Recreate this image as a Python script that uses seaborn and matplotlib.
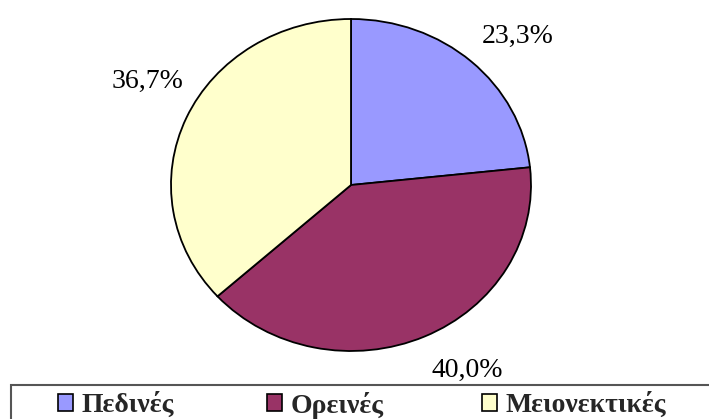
import matplotlib
matplotlib.use("Agg")
import matplotlib.pyplot as plt
from matplotlib.patches import Patch, Rectangle
import numpy as np
import seaborn as sns

# data
categories = ["Πεδινές", "Ορεινές", "Μειονεκτικές"]
shares = [23.3, 40.0, 36.7]
colors = ["#9999FF", "#993366", "#FFFFCC"]

sns.set_theme(style="white")
plt.rcParams["font.family"] = ["Liberation Serif", "DejaVu Serif"]

fig = plt.figure(figsize=(7.09, 4.19), dpi=100)
ax = fig.add_axes([126 / 709, 26.5 / 419, 450 / 709, 415 / 419])

wedges, texts, autotexts = ax.pie(
    shares,
    colors=colors,
    startangle=90,
    counterclock=False,
    autopct=lambda p: f"{p:.1f}%".replace(".", ","),
    pctdistance=1.29,
    wedgeprops=dict(edgecolor="black", linewidth=1.3),
    textprops=dict(fontsize=20, color="black"),
)
ax.set_aspect("auto")
ax.set_xlim(-1.25, 1.25)
ax.set_ylim(-1.25, 1.25)

# nudge labels round the pie a little, as Excel places them
label_shift = [-4, 6, -5]  # degrees
for w, t, d in zip(wedges, autotexts, label_shift):
    ang = np.deg2rad((w.theta1 + w.theta2) / 2 + d)
    t.set_position((1.29 * np.cos(ang), 1.29 * np.sin(ang)))

# legend box (runs past the right edge like the original)
fig.patches.append(Rectangle((11 / 709, -0.05), 1.2, (419 - 385) / 419 + 0.05,
                             transform=fig.transFigure, fill=False,
                             edgecolor="#555555", linewidth=1.5))

# one legend entry per column
xs = [58 / 709, 267 / 709, 482 / 709]
for name, col, x in zip(categories, colors, xs):
    fig.legend(handles=[Patch(facecolor=col, edgecolor="black", linewidth=1.2)],
               labels=[name], loc="center left", bbox_to_anchor=(x, 14 / 419),
               frameon=False, handlelength=0.54, handleheight=0.54,
               handletextpad=0.32, borderpad=0, borderaxespad=0,
               prop=dict(family="Liberation Serif", weight="bold", size=20))

fig.savefig("out.png", dpi=100)
